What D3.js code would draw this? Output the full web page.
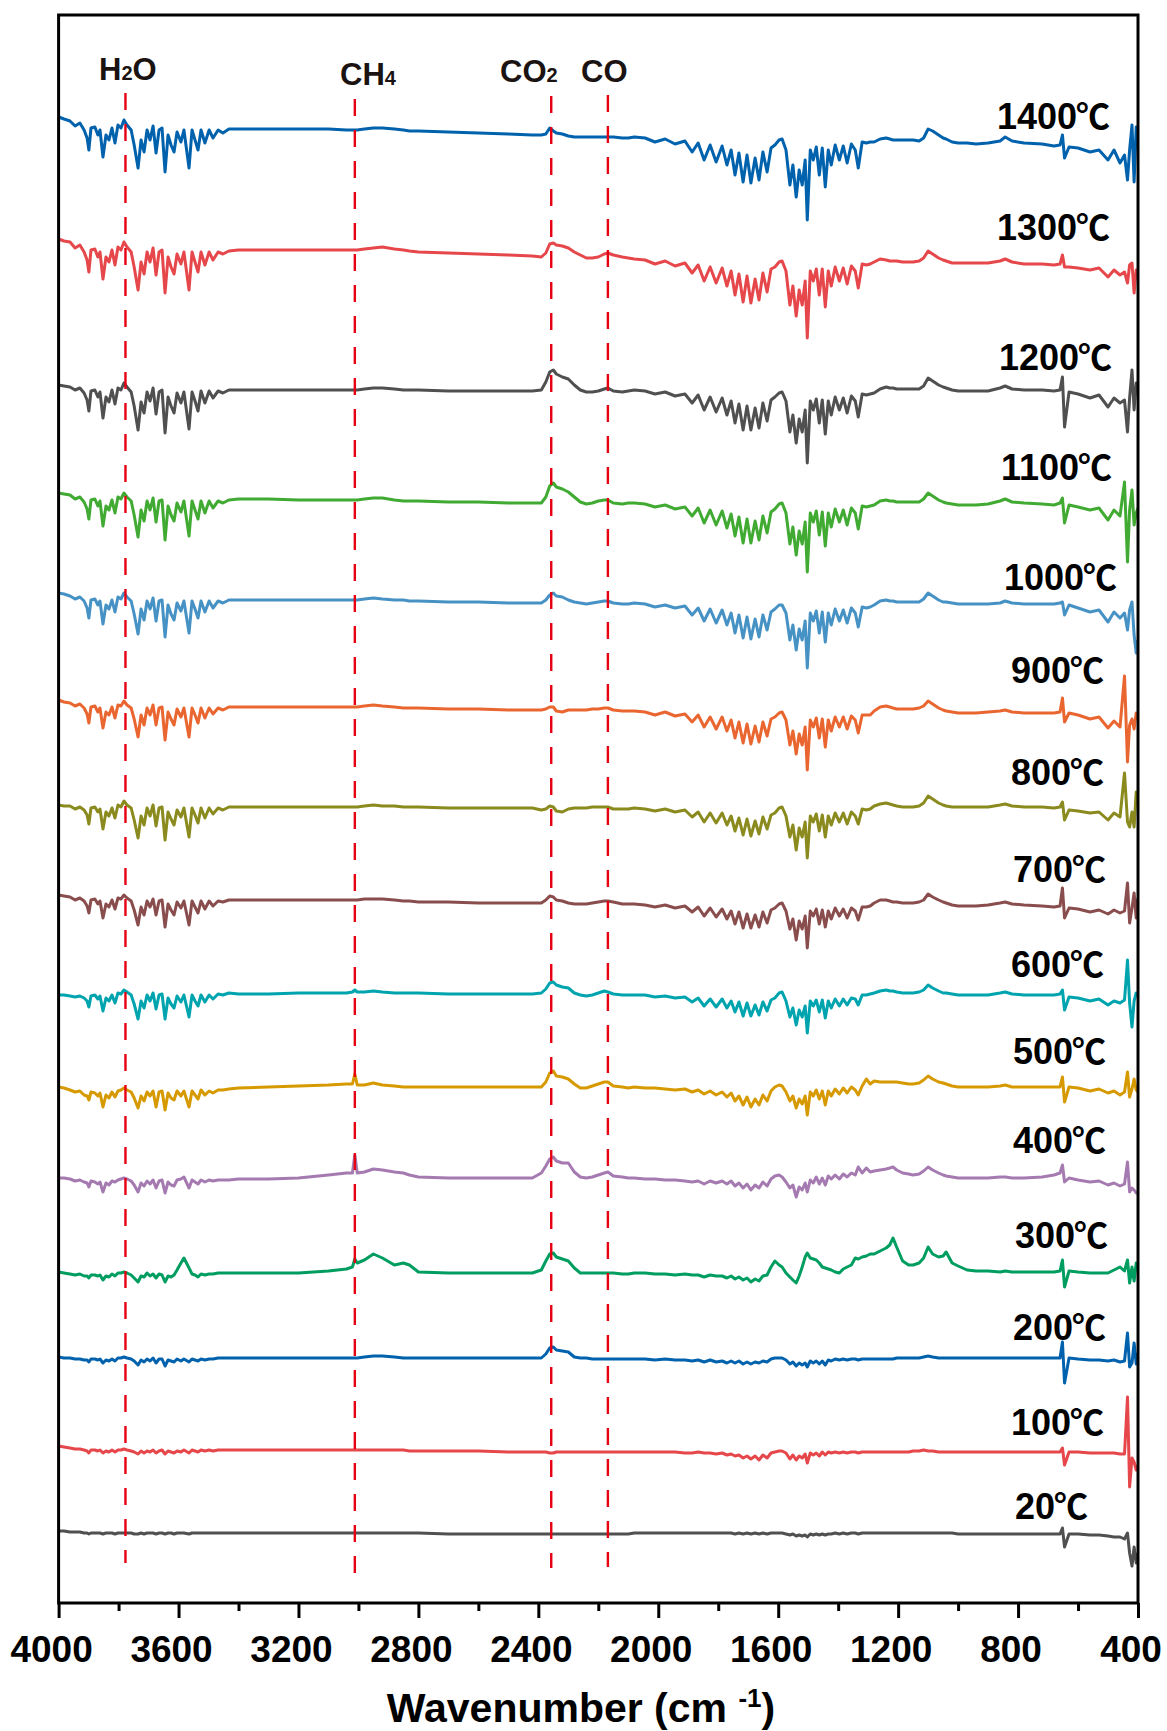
<!DOCTYPE html>
<html>
<head>
<meta charset="utf-8">
<script src="https://cdn.jsdelivr.net/npm/d3@7"></script>
<style>
  body { margin: 0; background: #fff; }
  svg { display: block; font-family: "Liberation Sans", Arial, "DejaVu Sans", sans-serif; }
</style>
</head>
<body>
<div id="chart-area"></div>
<script>
const WIDTH = 1167, HEIGHT = 1731;

// Wavenumber grid (cm-1), shared by all spectra
const wavenumber = [
  4000,3982,3962,3945,3929,3915,3905,3899,3892,3879,3869,3862,3852,3842,3832,3822,3812,3802,3792,3782,
  3772,3758,3748,3735,3725,3715,3705,3695,3685,3675,3665,3655,3645,3635,3625,3615,3605,3592,3582,3565,
  3555,3545,3535,3525,3512,3498,3485,3468,3452,3432,
  3400,3300,3200,3100,3040,3020,3012,3004,2980,2950,2920,2880,2850,2830,2800,2700,2600,2500,2420,
  2390,2375,2362,2350,2340,2320,2300,2280,2260,2240,2220,2200,2180,2168,2150,2120,2100,
  2080,2044,2011,1977,1944,1911,1887,1867,1847,1827,1807,1787,1771,1757,1744,1731,1717,1704,1691,1677,
  1664,1651,1637,1624,1611,1597,1587,1574,1561,1551,1540,1530,1520,1510,1503,1493,1483,1473,1463,1453,
  1443,1433,1423,1410,1396,1383,1370,1356,1343,1333,1320,1306,1293,
  1280,1260,1240,1228,1217,1205,1185,1165,1150,1130,1115,1100,1085,1065,1050,1040,1020,1000,970,940,
  900,860,843,820,780,720,680,660,652,645,630,600,560,530,500,480,460,445,435,428,420,413,406,400
];

const temperatures = ["1400℃","1300℃","1200℃","1100℃","1000℃","900℃","800℃","700℃","600℃","500℃","400℃","300℃","200℃","100℃","20℃"];

// vertical offset of each spectrum (a.u.)
const offsets = [1474, 1353, 1213, 1103, 1003, 896, 796, 703, 610, 516, 425, 330, 245, 153, 70];

// Intensities relative to each spectrum's own baseline (a.u.)
const s1400 = [
  12,10,8,3,6,-1,-9,-21,1,2,-6,-1,-28,-6,-11,1,-14,4,1,9,4,-1,-16,-39,-11,-23,-1,-11,3,-24,-1,1,-43,-6,-16,-23,-3,-13,-1,-39,-1,-11,-21,-1,-14,-1,-9,-1,-4,0,
  0,0,0,0,-1,-1,-1,-1,0,1,1,0,-1,-2,-2,-3,-4,-5,-6,
  -6,-5,1,-2,-4,-5,-7,-8,-8,-8,-8,-8,-8,-8,-8,-9,-9,
  -8,-9,-13,-10,-15,-12,-23,-14,-31,-16,-33,-17,-36,-21,-46,-24,-53,-26,-54,-29,-51,-23,-43,-19,-16,-11,-10,-21,-56,-36,-68,-41,-56,-31,-91,-21,-31,-18,-46,-19,-58,-21,-36,-16,-31,-17,-34,-15,-21,-39,-13,-14,-13,
  -13,-10,-9,-10,-11,-11,-11,-11,-11,-12,-9,0,-2,-6,-9,-10,-13,-14,-14,-15,-14,-12,-8,-12,-14,-15,-17,-16,-6,-29,-18,-19,-23,-21,-31,-21,-34,-26,-51,-21,4,-53,2,-11
];
const s1300 = [
  11,9,8,2,5,-2,-10,-22,0,1,-7,-2,-29,-7,-12,0,-15,3,0,8,3,-2,-17,-40,-12,-24,-2,-12,2,-25,-2,0,-43,-7,-17,-24,-4,-14,-2,-40,-2,-12,-22,-2,-15,-2,-10,-2,-4,-1,
  0,0,0,0,0,0,0,0,1,2,3,1,0,-1,-2,-3,-4,-5,-6,
  -7,-3,6,7,5,4,2,-2,-5,-8,-8,-7,-4,-3,-5,-7,-8,
  -9,-10,-14,-11,-16,-13,-23,-15,-31,-17,-33,-18,-36,-21,-45,-24,-52,-26,-53,-29,-50,-23,-42,-19,-17,-12,-11,-21,-55,-36,-66,-40,-55,-31,-88,-21,-31,-19,-45,-19,-57,-21,-36,-17,-31,-18,-34,-16,-21,-38,-14,-15,-14,
  -12,-9,-10,-11,-11,-11,-12,-12,-12,-11,-8,-1,-4,-8,-10,-11,-13,-13,-13,-13,-13,-11,-9,-12,-14,-14,-15,-14,-5,-17,-17,-18,-20,-18,-27,-20,-25,-22,-33,-15,-13,-43,-20,-25
];
const s1200 = [
  5,4,3,0,2,-3,-10,-21,-1,0,-7,-2,-28,-7,-12,0,-14,2,0,7,3,-2,-16,-40,-12,-23,-2,-11,2,-24,-2,0,-43,-7,-16,-23,-3,-13,-2,-39,-2,-11,-21,-1,-13,-1,-8,-1,-3,0,
  0,0,0,0,0,0,0,0,1,2,2,1,0,0,0,-1,-1,-1,-1,
  0,8,18,20,16,13,11,5,0,-2,-2,-1,1,2,-1,-2,-1,
  0,-1,-4,-2,-6,-4,-13,-5,-20,-7,-22,-8,-25,-11,-33,-14,-40,-16,-40,-18,-38,-13,-31,-10,-7,-3,-2,-11,-42,-25,-53,-29,-42,-20,-73,-11,-20,-9,-33,-10,-44,-11,-25,-7,-20,-8,-23,-6,-11,-27,-4,-5,-4,
  -3,1,3,2,2,1,1,1,1,1,4,12,9,5,3,2,0,-1,-1,-1,-1,2,4,1,0,0,-1,0,13,-37,-2,-4,-8,-5,-17,-8,-13,-10,-42,-8,20,-20,7,5
];
const s1100 = [
  7,6,5,1,3,-2,-9,-19,0,1,-6,-1,-26,-6,-10,0,-13,3,1,7,3,-1,-15,-37,-10,-21,-1,-10,2,-22,-1,0,-40,-6,-15,-21,-3,-12,-1,-36,-1,-10,-19,-1,-13,-1,-8,-1,-3,0,
  1,1,0,0,0,0,0,0,1,2,2,0,-1,-1,-1,-2,-2,-3,-3,
  -3,3,14,17,13,11,8,3,-2,-4,-3,-1,0,0,-3,-4,-3,
  -3,-4,-7,-5,-9,-7,-16,-8,-23,-10,-25,-11,-28,-14,-36,-17,-43,-19,-43,-21,-40,-16,-33,-12,-9,-4,-3,-13,-44,-27,-55,-31,-44,-22,-72,-13,-22,-11,-35,-12,-46,-13,-27,-9,-22,-10,-25,-8,-13,-29,-6,-7,-6,
  -5,-1,0,-1,-1,-2,-2,-2,-2,-2,1,7,4,0,-2,-3,-4,-5,-5,-5,-4,-1,1,-2,-3,-4,-5,-3,2,-23,-5,-7,-10,-8,-20,-10,-16,18,-62,-10,10,-25,-13,-8
];
const s1000 = [
  7,6,4,1,3,-1,-8,-18,0,1,-5,-1,-24,-5,-9,0,-12,3,1,7,3,-1,-14,-34,-9,-20,-1,-9,2,-21,-1,0,-37,-5,-14,-20,-3,-11,-1,-33,-1,-9,-18,-1,-12,-1,-8,-1,-3,0,
  0,0,0,0,0,0,0,0,1,2,1,0,0,-1,-1,-2,-2,-3,-3,
  -3,0,5,7,4,3,0,-2,-3,-4,-3,-2,-1,-1,-3,-4,-4,
  -3,-4,-7,-5,-8,-6,-15,-8,-21,-9,-23,-10,-25,-13,-33,-15,-38,-17,-39,-19,-37,-15,-30,-12,-9,-5,-5,-13,-40,-25,-50,-29,-40,-21,-68,-13,-21,-11,-33,-12,-42,-13,-25,-9,-21,-10,-23,-8,-13,-27,-7,-8,-7,
  -5,-1,0,-1,-1,-2,-2,-2,-2,-2,1,7,4,0,-2,-2,-3,-4,-4,-4,-4,-3,-1,-3,-4,-4,-4,-3,-2,-15,-5,-8,-12,-10,-22,-12,-18,-13,-30,-10,-2,-35,-53,-40
];
const s900 = [
  7,5,4,1,3,-1,-7,-16,0,1,-5,-1,-21,-5,-8,0,-11,2,1,6,2,-1,-12,-30,-8,-18,-1,-8,2,-18,-1,0,-33,-5,-12,-18,-2,-10,-1,-30,-1,-8,-16,-1,-11,-1,-7,-1,-3,0,
  0,0,0,0,0,0,0,0,1,2,1,0,-1,-1,-1,-2,-2,-3,-3,
  -3,-2,0,0,-4,-5,-3,-3,-3,-3,-2,-2,-1,-1,-3,-4,-4,
  -4,-5,-8,-5,-9,-7,-15,-8,-20,-10,-22,-10,-24,-13,-31,-15,-36,-17,-37,-19,-35,-15,-29,-12,-10,-6,-5,-13,-38,-24,-47,-27,-38,-20,-63,-13,-20,-11,-31,-12,-40,-13,-24,-10,-20,-10,-22,-9,-13,-26,-8,-8,-8,
  -4,0,1,0,-1,-2,-2,-2,-2,-1,1,6,3,-1,-3,-4,-5,-6,-6,-6,-5,-4,-3,-5,-6,-6,-6,-5,9,-15,-6,-8,-12,-10,-21,-14,-20,31,-55,-18,-12,-22,-6,-8
];
const s800 = [
  2,1,1,-2,0,-3,-8,-17,-1,0,-5,-2,-22,-5,-9,-1,-11,2,0,6,2,-1,-13,-31,-9,-18,-1,-9,2,-19,-1,0,-33,-5,-12,-18,-3,-10,-1,-30,-1,-8,-16,-1,-11,-1,-7,-1,-3,0,
  0,0,0,0,0,0,0,0,1,2,1,1,0,0,0,-1,-1,-1,-1,
  -3,-2,1,0,-4,-5,-2,-1,-1,-1,0,0,0,0,-2,-2,-2,
  -1,-2,-4,-2,-5,-3,-10,-5,-15,-6,-16,-6,-18,-9,-24,-11,-28,-12,-29,-14,-27,-10,-22,-8,-6,-1,0,-9,-30,-18,-43,-21,-30,-15,-51,-9,-15,-7,-24,-8,-30,-9,-18,-6,-15,-6,-17,-5,-9,-17,-2,-3,-2,
  1,3,4,3,2,1,0,0,0,1,4,11,8,4,2,1,0,0,0,0,0,2,3,1,0,0,-1,0,5,-13,-3,-4,-6,-5,-13,-6,-10,34,-15,-20,-5,-20,15,5
];
const s700 = [
  5,4,3,0,2,-1,-6,-13,0,1,-4,-1,-18,-4,-7,0,-9,2,1,5,2,-1,-10,-25,-7,-15,-1,-7,1,-15,-1,0,-27,-4,-10,-15,-2,-8,-1,-25,-1,-7,-13,-1,-9,-1,-6,-1,-2,0,
  0,0,0,0,0,0,0,0,1,1,1,0,-1,-1,-2,-2,-3,-3,-3,
  -3,0,4,3,0,-1,-3,-4,-4,-4,-3,-2,-1,-1,-2,-4,-4,
  -4,-5,-7,-5,-8,-6,-12,-7,-16,-8,-17,-9,-19,-11,-24,-12,-28,-14,-28,-15,-27,-12,-23,-10,-8,-4,-3,-11,-29,-19,-40,-21,-29,-16,-48,-11,-16,-9,-24,-10,-27,-11,-19,-8,-16,-9,-18,-8,-11,-20,-7,-7,-6,
  -3,0,0,-1,-2,-2,-3,-3,-3,-2,0,6,3,0,-2,-3,-5,-6,-6,-6,-5,-3,-2,-4,-5,-6,-7,-6,12,-18,-8,-9,-12,-10,-14,-10,-13,-11,17,-23,-8,7,-18,2
];
const s600 = [
  -2,-2,-3,-4,-3,-5,-8,-14,-3,-2,-6,-3,-18,-5,-8,-2,-10,0,-1,3,1,-2,-11,-26,-8,-15,-2,-8,0,-16,-2,-1,-26,-5,-11,-15,-3,-9,-2,-24,-2,-8,-13,-2,-9,-2,-6,-1,-2,0,
  -1,-1,0,0,0,1,3,1,1,2,1,0,0,0,0,-1,-1,-1,-1,
  0,4,10,11,8,6,5,0,-2,-3,-2,0,2,1,-1,-2,-2,
  -2,-2,-4,-3,-5,-4,-9,-5,-13,-6,-14,-6,-15,-8,-19,-9,-23,-10,-23,-12,-22,-9,-18,-7,-5,0,1,-8,-24,-15,-32,-17,-24,-13,-40,-8,-13,-7,-19,-7,-25,-8,-15,-6,-13,-6,-12,-5,-6,-12,-2,-2,-1,
  0,2,3,2,2,1,0,0,0,1,3,8,5,2,0,0,-1,-2,-2,-2,-2,0,1,-1,-2,-2,-2,-1,3,-17,-4,-5,-8,-6,-12,-8,-10,-7,33,-10,-34,-8,0,-3
];
const s500 = [
  0,-1,-3,-5,-4,-8,-9,-13,-5,-6,-9,-6,-20,-8,-11,-5,-10,-4,-3,-1,-3,-5,-11,-21,-9,-14,-5,-9,-4,-20,-5,-4,-23,-6,-11,-13,-4,-9,-4,-20,-4,-8,-12,-3,-8,-4,-6,-3,-3,-2,
  -1,0,1,2,3,3,13,2,2,4,2,1,0,0,0,0,0,0,0,
  0,5,14,16,11,10,8,3,-1,-1,1,3,5,5,1,0,-1,
  0,-1,-1,-2,-3,-2,-5,-3,-7,-4,-8,-5,-10,-6,-14,-9,-18,-10,-20,-12,-18,-8,-14,-4,0,2,1,-5,-14,-9,-21,-12,-17,-9,-28,-5,-9,-3,-12,-4,-18,-4,-9,-2,-7,-1,-6,0,-3,-8,1,8,3,
  6,5,5,5,5,5,4,3,3,4,7,11,8,5,4,3,1,0,0,0,0,1,2,0,0,0,0,0,10,-15,0,-1,-4,-2,-6,-4,-8,-5,15,-10,-2,8,-3,-5
];
const s400 = [
  0,0,-1,-3,-2,-4,-5,-9,-3,-4,-6,-4,-14,-5,-7,-3,-4,-2,-1,0,-1,-3,-7,-14,-5,-8,-3,-6,-2,-10,-3,-2,-15,-4,-7,-8,-2,-1,1,-10,-2,-4,-6,-2,-4,-2,-3,-2,-2,-2,
  -1,-1,0,3,5,5,23,5,6,9,8,6,5,3,1,0,0,0,0,
  5,12,19,21,17,15,15,6,1,0,1,3,5,6,2,1,0,
  0,-1,-1,-2,-2,-3,-4,-3,-6,-3,-5,-3,-6,-3,-8,-5,-10,-6,-12,-7,-10,-4,-8,-1,2,3,1,-4,-10,-7,-19,-9,-12,-5,-14,-2,-5,1,-6,0,-7,2,-1,3,-1,4,1,5,3,11,5,10,6,
  7,8,9,10,11,8,5,4,3,4,7,11,8,5,3,2,1,0,0,0,0,1,1,0,0,1,3,5,13,-4,0,-2,-4,-3,-7,-5,-8,-6,16,-14,-10,-12,-15,-14
];
const s300 = [
  1,0,-1,-2,-1,-3,-3,-5,-2,-2,-3,-2,-7,-3,-4,-1,-3,0,0,1,0,-2,-5,-9,-3,-4,0,-3,-1,-5,-1,-2,-9,-3,-4,-2,3,10,15,5,-1,-2,-4,-1,-2,-1,-1,0,0,0,
  0,0,0,2,4,6,14,10,13,19,15,8,10,8,1,0,0,0,0,
  3,12,19,20,16,14,12,5,0,0,0,0,0,0,0,-1,-1,
  0,0,-1,-1,-2,-1,-2,-2,-4,-2,-3,-3,-5,-3,-6,-4,-7,-5,-9,-6,-8,-3,-2,6,12,8,6,0,-4,-7,-10,-3,6,16,20,15,14,13,10,6,5,4,3,1,0,4,6,8,15,14,16,17,19,
  19,22,25,28,35,26,12,8,8,10,15,26,19,16,17,21,10,7,3,2,2,1,2,1,1,1,1,2,13,-14,2,1,0,0,0,3,6,2,13,-10,6,-8,10,8
];
const s200 = [
  1,0,0,-1,-1,-2,-2,-4,-1,-1,-2,-1,-5,-2,-3,-1,-3,0,0,1,0,-1,-3,-7,-2,-4,-1,-3,0,-5,-1,-1,-8,-2,-3,-4,-1,-3,-1,-4,-1,-2,-3,-1,-2,-1,-1,0,0,0,
  0,0,0,0,0,0,0,0,1,2,2,1,0,0,0,0,0,0,0,
  0,4,10,11,8,7,6,1,0,0,-1,-1,-1,-1,-1,-1,-1,
  -1,-1,-2,-1,-2,-2,-3,-2,-4,-2,-4,-3,-5,-3,-5,-3,-6,-4,-6,-4,-5,-3,-4,-1,0,0,0,-2,-6,-4,-8,-5,-7,-5,-9,-3,-5,-3,-6,-3,-7,-2,-3,-1,-2,-1,-2,-1,-1,-2,-1,-1,-1,
  -1,-1,-1,-1,-1,0,0,0,0,0,1,2,1,0,0,0,0,0,0,0,0,0,0,0,0,0,0,0,16,-25,0,-1,-2,-2,-3,-2,-4,-3,25,-9,-5,15,-6,5
];
const s100 = [
  4,3,2,1,1,0,-1,-3,0,0,-1,0,-3,-1,-2,0,-2,0,0,1,0,-1,-2,-4,-1,-3,-1,-2,0,-3,-1,0,-4,-1,-2,-3,-1,-2,0,-3,0,-1,-2,0,-1,0,-1,0,0,0,
  0,0,0,0,0,0,0,0,0,0,0,0,0,-1,-1,-1,-1,-2,-2,
  -2,-2,-3,-3,-2,-2,-2,-2,-2,-2,-2,-2,-2,-2,-2,-2,-2,
  -2,-2,-2,-2,-2,-3,-3,-2,-3,-3,-4,-3,-5,-4,-6,-5,-8,-6,-9,-6,-10,-5,-8,-3,-2,-1,-1,-3,-9,-5,-10,-6,-8,-4,-13,-3,-5,-3,-6,-2,-5,-2,-3,-2,-3,-2,-3,-2,-2,-3,-2,-2,-2,
  -2,-2,-2,-2,-2,-2,-2,-2,-1,-1,0,-1,-1,-2,-2,-2,-2,-2,-2,-2,-2,-2,-2,-2,-2,-2,-2,-2,2,-15,-2,-2,-3,-3,-3,-3,-4,-4,53,-37,-8,-12,-20,-15
];
const s20 = [
  2,2,1,1,1,0,0,-1,0,0,0,0,-1,0,0,0,-1,0,0,0,0,0,-1,-1,0,-1,0,0,0,-1,0,0,-1,0,0,-1,0,0,0,-1,0,0,0,0,0,0,0,0,0,0,
  0,0,0,0,0,0,0,0,0,0,0,0,0,0,0,-1,-1,-1,-1,
  -1,-1,-1,-1,-1,-1,-1,-1,-1,-1,-1,-1,-1,-1,-1,-1,-1,
  0,0,0,0,0,0,0,0,0,0,0,0,0,0,-1,0,-1,0,-1,0,-1,0,-1,0,0,0,0,-1,-2,-1,-3,-2,-3,-2,-4,-1,-2,-1,-2,-1,-2,-1,-1,0,-1,0,-1,0,0,-1,0,0,0,
  0,0,0,0,0,0,0,0,0,0,0,0,0,0,0,0,0,-1,-1,-1,-1,-1,-1,-1,-1,-1,-1,-1,5,-14,-1,-1,-2,-2,-3,-4,-4,-6,0,-20,-33,-14,-30,-20
];
const spectra = [s1400, s1300, s1200, s1100, s1000, s900, s800, s700, s600, s500, s400, s300, s200, s100, s20];

// Gas bands marked by dashed lines
const bandNames = ["H2O", "CH4", "CO2", "CO"];
const bandWavenumbers = [3777, 3012, 2357, 2168];

const majorTicks = [4000, 3600, 3200, 2800, 2400, 2000, 1600, 1200, 800, 400];
const minorTicks = [3800, 3400, 3000, 2600, 2200, 1800, 1400, 1000, 600];

// ---- layout / style ----
const colors = ["#0062ad","#e5474b","#505050","#41aa33","#4792c5","#ea6630","#8a8a1e","#8a4d4d","#00a4ae","#d69a00","#a57ab1","#009d60","#0062ad","#e5474b","#505050"];
const labelPos = [[1110,129],[1110,240],[1112,370],[1112,480],[1117,590],[1104,683],[1104,785],[1106,882],[1104,977],[1106,1064],[1106,1153],[1108,1248],[1106,1340],[1104,1435],[1088,1519]];
const bandLabelPos = [[99,80],[340,85],[500,82],[581,82]];
const bandLineSpan = [[93,1563],[99,1573],[96,1568],[95,1567]];

const frame = {left: 58.6, right: 1138, top: 15, bottom: 1603};

const x = d3.scaleLinear().domain([4000, 400]).range([frame.left, frame.right]);
const y = d3.scaleLinear().domain([0, 1588]).range([frame.bottom, frame.top]);

const svg = d3.select("#chart-area").append("svg")
    .attr("width", WIDTH)
    .attr("height", HEIGHT);

svg.append("rect").attr("width", WIDTH).attr("height", HEIGHT).attr("fill", "#fff");

svg.append("clipPath").attr("id", "plot-clip")
  .append("rect")
    .attr("x", frame.left).attr("y", frame.top)
    .attr("width", frame.right - frame.left).attr("height", frame.bottom - frame.top);

// spectra
const plot = svg.append("g").attr("clip-path", "url(#plot-clip)");
spectra.forEach((values, k) => {
    const line = d3.line()
        .x((v, i) => x(wavenumber[i]))
        .y(v => y(offsets[k] + v));
    plot.append("path")
        .datum(values)
        .attr("d", line)
        .attr("fill", "none")
        .attr("stroke", colors[k])
        .attr("stroke-width", 3)
        .attr("stroke-linejoin", "round");
});

// dashed band markers
bandWavenumbers.forEach((w, i) => {
    svg.append("line")
        .attr("x1", x(w)).attr("x2", x(w))
        .attr("y1", bandLineSpan[i][0]).attr("y2", bandLineSpan[i][1])
        .attr("stroke", "#e60012")
        .attr("stroke-width", 2.4)
        .attr("stroke-dasharray", "17,14");
});

// band labels with small digits
bandNames.forEach((name, i) => {
    const t = svg.append("text")
        .attr("x", bandLabelPos[i][0])
        .attr("y", bandLabelPos[i][1])
        .attr("fill", "#1a1311")
        .attr("font-size", "31px")
        .attr("font-weight", "bold");
    name.split(/(\d)/).filter(s => s.length).forEach(part => {
        if (/\d/.test(part)) {
            t.append("tspan").attr("font-size", "20px").text(part);
        } else {
            t.append("tspan").text(part);
        }
    });
});

// temperature labels, the degree sign set in a CJK face so it stays compact
temperatures.forEach((label, i) => {
    const t = svg.append("text")
        .attr("x", labelPos[i][0])
        .attr("y", labelPos[i][1])
        .attr("text-anchor", "end")
        .attr("fill", "#000")
        .attr("font-size", "36px")
        .attr("font-weight", "bold");
    t.append("tspan").text(label.slice(0, -1));
    t.append("tspan")
        .attr("font-family", "'Noto Sans CJK SC', 'DejaVu Sans', sans-serif")
        .attr("font-weight", "bold")
        .attr("font-size", "34px")
        .attr("dx", -1)
        .text(label.slice(-1));
});

// frame
svg.append("rect")
    .attr("x", frame.left).attr("y", frame.top)
    .attr("width", frame.right - frame.left).attr("height", frame.bottom - frame.top)
    .attr("fill", "none")
    .attr("stroke", "#000")
    .attr("stroke-width", 3);

// x axis
const axisMajor = svg.append("g")
    .attr("transform", `translate(0,${frame.bottom})`)
    .call(d3.axisBottom(x).tickValues(majorTicks).tickSize(15).tickFormat(d3.format("d")));
axisMajor.select(".domain").remove();
axisMajor.selectAll(".tick line").attr("stroke", "#000").attr("stroke-width", 3);
axisMajor.selectAll(".tick text")
    .attr("y", 59)
    .attr("dy", 0)
    .attr("dx", -7.5)
    .attr("fill", "#000")
    .attr("font-size", "37px")
    .attr("font-weight", "bold")
    .attr("font-family", "'Liberation Sans', Arial, sans-serif");

const axisMinor = svg.append("g")
    .attr("transform", `translate(0,${frame.bottom})`)
    .call(d3.axisBottom(x).tickValues(minorTicks).tickSize(8).tickFormat(""));
axisMinor.select(".domain").remove();
axisMinor.selectAll(".tick line").attr("stroke", "#000").attr("stroke-width", 3);

// axis title
const title = svg.append("text")
    .attr("x", 581)
    .attr("y", 1722)
    .attr("text-anchor", "middle")
    .attr("fill", "#000")
    .attr("font-size", "41px")
    .attr("font-weight", "bold");
title.append("tspan").text("Wavenumber (cm ");
title.append("tspan").attr("font-size", "26px").attr("dy", -15).text("-1");
title.append("tspan").attr("dy", 15).text(")");
</script>
</body>
</html>
